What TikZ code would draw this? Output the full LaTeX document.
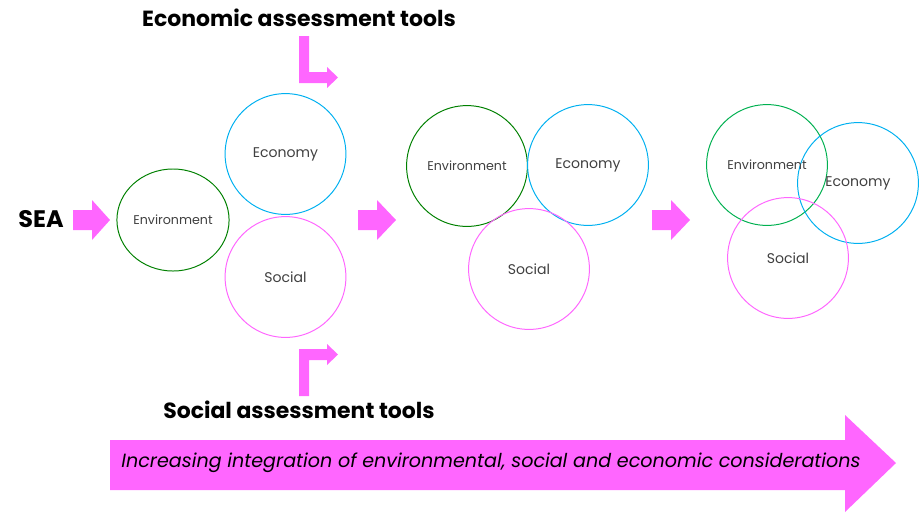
\documentclass[tikz,border=0pt]{standalone}
\usepackage{fontspec}
\setmainfont{Poppins}
\usetikzlibrary{shapes.geometric}
\definecolor{arrowpink}{HTML}{FF66FF}
\definecolor{envgreen}{HTML}{008000}
\definecolor{envgreenlight}{HTML}{00B050}
\definecolor{econblue}{HTML}{00B0F0}
\definecolor{labelgrey}{HTML}{404040}
\tikzset{
  pillar/.style={circle,draw,line width=0.7pt,minimum size=3.02cm,inner sep=0pt,
    text=labelgrey,font=\fontsize{9}{10}\selectfont},
  bigpillar/.style={pillar,font=\fontsize{10}{11}\selectfont},
  toolslabel/.style={font=\fontsize{15.6}{18}\selectfont\bfseries},
  blockarrow/.style={fill=arrowpink}
}
\begin{document}
\begin{tikzpicture}[x=0.025cm,y=-0.025cm]
\useasboundingbox (0,0) rectangle (920,515);

\node[font=\fontsize{17}{20}\selectfont\bfseries] (sea) at (41,219) {SEA};
\node[toolslabel] (ecotools) at (299,18) {Economic assessment tools};
\node[toolslabel] (soctools) at (299,410) {Social assessment tools};

\fill[blockarrow] (73,210) -- (92,210) -- (92,200) -- (110,220) -- (92,240) -- (92,230) -- (73,230) -- cycle;
\fill[blockarrow] (358,210) -- (377,210) -- (377,200) -- (396,220) -- (377,240) -- (377,230) -- (358,230) -- cycle;
\fill[blockarrow] (652,210) -- (671,210) -- (671,200) -- (690,220) -- (671,240) -- (671,230) -- (652,230) -- cycle;

\fill[blockarrow] (299,36) -- (309,36) -- (309,72) -- (327,72) -- (327,67) -- (338,77.5) -- (327,88) -- (327,83) -- (299,83) -- cycle;
\fill[blockarrow] (299,396) -- (309,396) -- (309,360) -- (327,360) -- (327,365) -- (338,354.5) -- (327,344) -- (327,349) -- (299,349) -- cycle;

\node[pillar,ellipse,draw=envgreen,minimum width=2.8cm,minimum height=2.55cm] (envA) at (173,220) {Environment};
\node[bigpillar,draw=econblue] (ecoA) at (285.5,154) {Economy};
\node[bigpillar,draw=arrowpink] (socA) at (285.5,277) {Social};

\node[pillar,draw=envgreen] (envB) at (467,166) {Environment};
\node[bigpillar,draw=econblue] (ecoB) at (588,165) {Economy};
\node[bigpillar,draw=arrowpink] (socB) at (529,269) {Social};

\node[pillar,draw=envgreenlight] (envC) at (767,165) {};
\node[bigpillar,draw=econblue] (ecoC) at (858,183) {Economy};
\node[bigpillar,draw=arrowpink] (socC) at (788,258) {Social};
\node[text=labelgrey,font=\fontsize{9}{10}\selectfont] (envCtext) at (envC) {Environment};

\fill[blockarrow] (110,440) -- (845,440) -- (845,415) -- (896,463) -- (845,512) -- (845,490) -- (110,490) -- cycle;
\node[font=\fontsize{13.6}{16}\selectfont\itshape] (integration) at (491,463) {Increasing integration of environmental, social and economic considerations};
\end{tikzpicture}
\end{document}
